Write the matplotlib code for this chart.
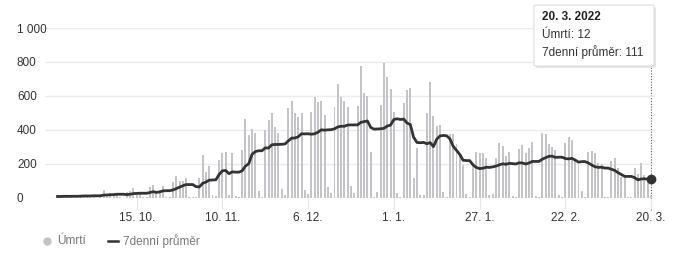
import matplotlib
matplotlib.use('Agg')
import matplotlib.pyplot as plt
from matplotlib.lines import Line2D
from matplotlib.patches import FancyBboxPatch
import pandas as pd

plt.rcParams['font.family'] = ['Liberation Sans', 'DejaVu Sans']

start, end = '2021-09-21', '2022-03-20'

# denní úmrtí (21. 9. 2021 - 20. 3. 2022)
deaths = [
    12, 14, 16, 13, 11, 2, 1,
    20, 18, 17, 16, 14, 2, 3,
    47, 25, 28, 24, 22, 3, 2,
    37, 40, 57, 27, 27, 4, 3,
    63, 75, 35, 45, 71, 6, 4,
    92, 131, 102, 100, 116, 7, 5,
    8, 116, 253, 155, 188, 20, 10,
    224, 267, 270, 20, 265, 10, 5,
    282, 463, 370, 404, 380, 43, 5,
    400, 459, 498, 420, 380, 52, 15,
    528, 571, 502, 474, 502, 47, 25,
    504, 592, 567, 573, 486, 63, 31,
    537, 670, 592, 573, 537, 71, 27,
    541, 776, 616, 600, 272, 5, 35,
    547, 792, 710, 639, 508, 32, 5,
    560, 635, 645, 116, 296, 20, 20,
    498, 684, 482, 425, 429, 37, 5,
    375, 375, 316, 253, 194, 25, 5,
    198, 272, 267, 267, 233, 20, 25,
    235, 321, 306, 247, 272, 10, 8,
    286, 312, 263, 292, 331, 12, 8,
    380, 374, 318, 302, 282, 15, 8,
    325, 361, 341, 230, 195, 40, 8,
    269, 278, 267, 204, 200, 8, 5,
    220, 233, 175, 125, 122, 8, 5,
    175, 140, 208, 135, 106, 12,
]

# 7denní průměr
avg7 = [
    9, 9, 10, 10, 10, 10, 10,
    11, 12, 12, 12, 13, 13, 13,
    17, 18, 19, 20, 22, 22, 22,
    20, 22, 26, 27, 28, 28, 28,
    32, 37, 33, 36, 42, 43, 43,
    47, 55, 64, 72, 79, 79, 79,
    67, 65, 86, 94, 105, 106, 107,
    138, 160, 162, 143, 154, 152, 152,
    160, 188, 202, 257, 273, 278, 278,
    295, 294, 313, 315, 315, 316, 318,
    336, 352, 353, 360, 378, 377, 378,
    375, 378, 387, 401, 399, 401, 402,
    407, 418, 422, 422, 429, 430, 430,
    430, 445, 449, 453, 415, 405, 406,
    407, 410, 423, 429, 462, 466, 462,
    464, 441, 432, 357, 327, 325, 327,
    319, 326, 302, 346, 365, 368, 366,
    348, 304, 280, 256, 222, 220, 220,
    195, 180, 173, 175, 181, 180, 183,
    188, 195, 201, 198, 204, 202, 200,
    207, 206, 200, 206, 215, 215, 215,
    228, 237, 245, 246, 239, 240, 240,
    232, 230, 233, 223, 211, 214, 214,
    206, 194, 184, 180, 181, 176, 176,
    169, 162, 149, 138, 127, 127, 127,
    120, 107, 112, 113, 111, 111,
]

tick_dates = ['2021-10-15', '2021-11-10', '2021-12-06', '2022-01-01',
              '2022-01-27', '2022-02-22', '2022-03-20']
tick_labels = ['15. 10.', '10. 11.', '6. 12.', '1. 1.', '27. 1.', '22. 2.', '20. 3.']
y_ticks = [0, 200, 400, 600, 800, 1000]
y_labels = ['0', '200', '400', '600', '800', '1 000']

dates = pd.date_range(start, end)
df = pd.DataFrame({'deaths': deaths, 'avg': avg7}, index=dates)

W, H = 677, 257
fig = plt.figure(figsize=(W / 100, H / 100), dpi=100)
ax = fig.add_axes([45 / W, (H - 198) / H, 610 / W, 170 / H])

ax.bar(df.index, df['deaths'], width=0.6, color='#c4c4c8', zorder=2)
ax.plot(df.index, df['avg'], color='#333333', lw=2.0, zorder=3,
        solid_joinstyle='round')
ax.plot(df.index[-1], df['avg'].iloc[-1], 'o', color='#333333', ms=6,
        zorder=4, clip_on=False)

ax.set_xlim(pd.Timestamp(start) - pd.Timedelta(days=3.8),
            pd.Timestamp(end) + pd.Timedelta(days=1.2))
ax.set_ylim(0, 1000)
ax.set_yticks(y_ticks)
ax.set_yticklabels(y_labels, ha='left')
ax.set_xticks(pd.to_datetime(tick_dates))
ax.set_xticklabels(tick_labels)
ax.grid(axis='y', color='#ebebeb', lw=1, zorder=0)
for s in ax.spines.values():
    s.set_visible(False)
ax.tick_params(axis='y', length=0, pad=28 * 0.72, labelsize=8.5,
               labelcolor='#333333')
ax.tick_params(axis='x', length=8, width=0.8, color='#e6e6e6', pad=2,
               labelsize=8.5, labelcolor='#333333')

# tooltip
ax.axvline(df.index[-1], ymin=-0.07, ymax=(198 - 66) / 170, color='#555555',
           lw=0.8, ls=(0, (1, 1.5)), clip_on=False, zorder=1)
shadow = FancyBboxPatch((536 / W, (H - 68) / H), 120 / W, 61 / H,
                        boxstyle='round,pad=0,rounding_size=0.004',
                        transform=fig.transFigure, fc='#e4e4e4', ec='none',
                        zorder=5)
box = FancyBboxPatch((534 / W, (H - 66) / H), 120 / W, 61 / H,
                     boxstyle='round,pad=0,rounding_size=0.004',
                     transform=fig.transFigure, fc='white', ec='#dddddd',
                     lw=0.8, zorder=6)
fig.patches.extend([shadow, box])
fig.text(542 / W, (H - 17) / H, '20. 3. 2022', fontsize=8.5, weight='bold',
         color='#222222', va='center', zorder=7)
fig.text(542 / W, (H - 35) / H, 'Úmrtí: 12', fontsize=8.5, color='#333333',
         va='center', zorder=7)
fig.text(542 / W, (H - 52) / H, '7denní průměr: 111', fontsize=8.5,
         color='#333333', va='center', zorder=7)

# legend
ly = (H - 241) / H
fig.add_artist(Line2D([47 / W], [ly], marker='o', ls='none', color='#c4c4c8',
                      ms=5, transform=fig.transFigure))
fig.text(57 / W, ly, 'Úmrtí', fontsize=8.5, color='#777777', va='center')
fig.add_artist(Line2D([108 / W, 118 / W], [ly, ly], color='#333333', lw=1.8,
                      transform=fig.transFigure))
fig.text(123 / W, ly, '7denní průměr', fontsize=8.5, color='#777777',
         va='center')

fig.savefig('out.png', dpi=100)
